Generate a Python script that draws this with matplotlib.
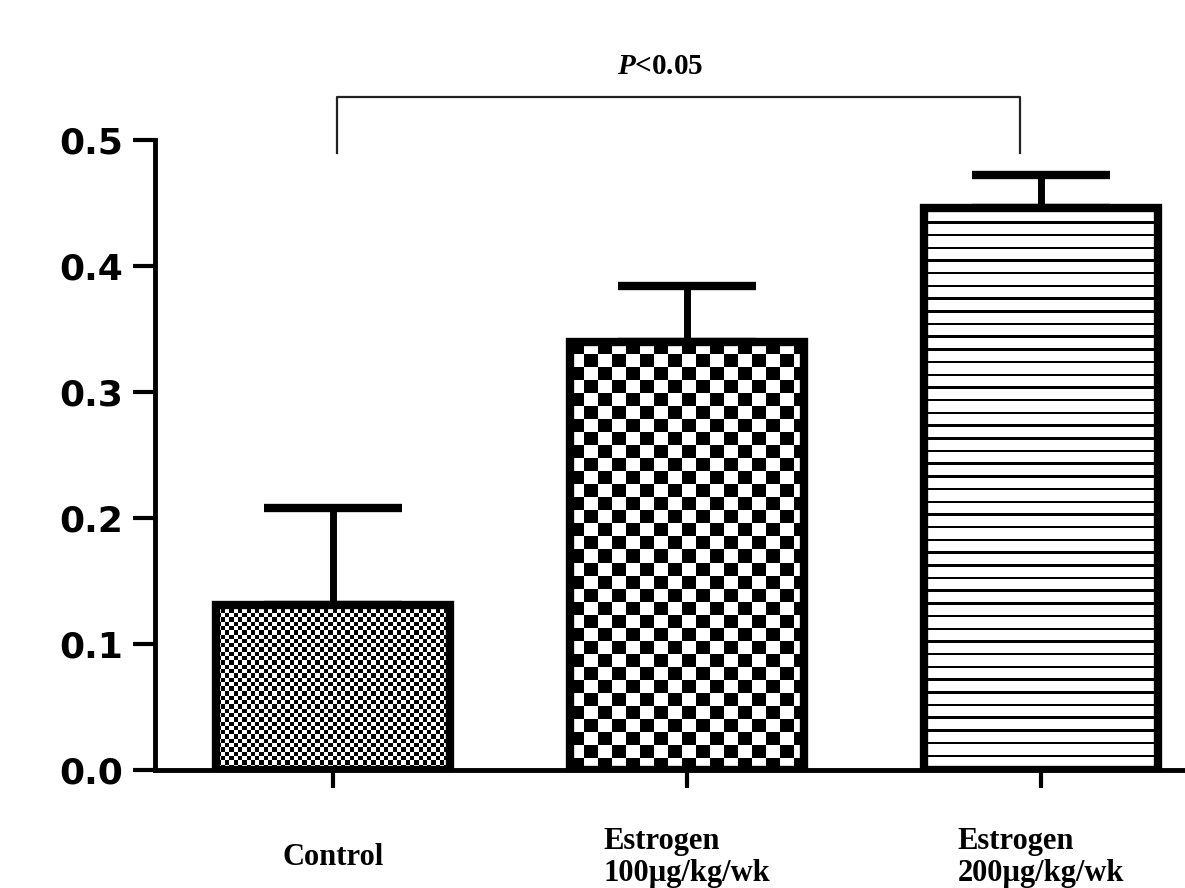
import matplotlib
matplotlib.use('Agg')
import matplotlib.pyplot as plt
import numpy as np

groups = ['Control', 'Estrogen\n100\u00b5g/kg/wk', 'Estrogen\n200\u00b5g/kg/wk']
means = [0.131, 0.340, 0.446]
sems = [0.077, 0.044, 0.026]
yticks = [0.0, 0.1, 0.2, 0.3, 0.4, 0.5]
bracket_x = [0.01, 1.94]
bracket_y = [0.490, 0.534]
p_label = '$P$<0.05'

plt.rcParams['mathtext.fontset'] = 'custom'
plt.rcParams['mathtext.it'] = 'Liberation Serif:bold:italic'
plt.rcParams['mathtext.rm'] = 'Liberation Serif:bold'

fig = plt.figure(figsize=[11.85, 8.88], dpi=100)
ax = fig.add_axes([0.1308, 0.1329, 0.8692, 0.7094])
ax.set_xlim(-0.503, 2.407)
ax.set_ylim(0, 0.5)

x = np.arange(len(groups))
bars = ax.bar(x, means, width=0.66, facecolor='none', edgecolor='black',
              linewidth=6, zorder=3)
ax.errorbar(x, means, yerr=[np.zeros(len(x)), sems], fmt='none', ecolor='black',
            elinewidth=5, capsize=50, capthick=6, zorder=1)


# fill patterns, drawn as images clipped to each bar
def pattern(kind, w, h):
    yy, xx = np.indices((h, w))
    if kind == 'fine':
        s = 4.3
        return ((np.floor(xx / s) + np.floor(yy / s)) % 2).astype(float)
    if kind == 'checker':
        return ((np.floor(xx / 14) + np.floor(yy / 13)) % 2).astype(float)
    p = 12.7
    return ((yy % p) >= 2.5).astype(float)


for b, kind in zip(bars, ['fine', 'checker', 'lines']):
    x0, y0 = b.get_x(), b.get_y()
    x1, y1 = x0 + b.get_width(), y0 + b.get_height()
    (px0, py0), (px1, py1) = ax.transData.transform([(x0, y0), (x1, y1)])
    w, h = int(round(px1 - px0)), int(round(py1 - py0))
    im = ax.imshow(pattern(kind, w, h), cmap='gray', vmin=0, vmax=1,
                   extent=(x0, x1, y0, y1), aspect='auto',
                   interpolation='nearest', zorder=2)
    im.set_clip_path(b)

ax.set_xlim(-0.503, 2.407)
ax.set_ylim(0, 0.5)

# significance bracket
ax.plot([bracket_x[0], bracket_x[0], bracket_x[1], bracket_x[1]],
        [bracket_y[0], bracket_y[1], bracket_y[1], bracket_y[0]],
        color='#222222', linewidth=1.6, clip_on=False)
ax.text(np.mean(bracket_x) - 0.05, bracket_y[1] + 0.024, p_label,
        ha='center', va='center', fontsize=21, family='Liberation Serif',
        fontweight='bold', clip_on=False)

for s in ['top', 'right']:
    ax.spines[s].set_visible(False)
for s in ['left', 'bottom']:
    ax.spines[s].set_linewidth(3.5)

ax.set_yticks(yticks)
ax.set_yticklabels(['%.1f' % t for t in yticks], fontsize=26,
                   family='DejaVu Sans', fontweight='bold')
ax.tick_params(axis='y', length=16, width=3, pad=7)

ax.set_xticks(x)
ax.set_xticklabels(groups, fontsize=22, family='Liberation Serif',
                   fontweight='bold')
ax.tick_params(axis='x', length=13, width=3, pad=50)
for lab in ax.get_xticklabels():
    lab.set_va('center')
    lab.set_multialignment('left')
    lab.set_linespacing(1.1)

plt.savefig('out.png', dpi=100)
